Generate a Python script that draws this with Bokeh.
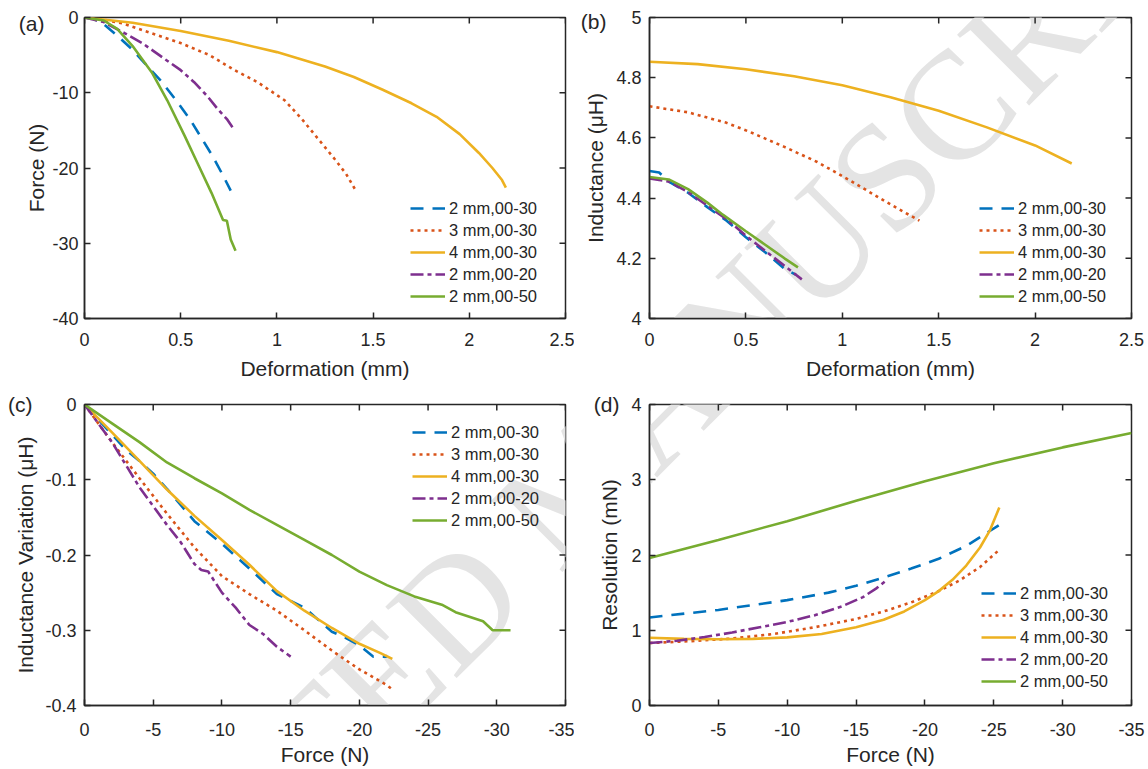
import math
from bokeh.plotting import figure
from bokeh.layouts import column, row
from bokeh.models import (Range1d, FixedTicker, CustomJSTickFormatter, LinearAxis,
                          Legend, LegendItem, Label)
from bokeh.embed import file_html
from bokeh.resources import INLINE

# ---------------- data ----------------
series_names = ["2 mm,00-30", "3 mm,00-30", "4 mm,00-30", "2 mm,00-20", "2 mm,00-50"]
series_colors = ["#0072BD", "#D95319", "#EDB120", "#7E2F8E", "#77AC30"]
series_dashes = ["13 9", "3 4", "solid", "13 4 4 4", "solid"]

# (a) Force (N) vs Deformation (mm)
a_x_2mm30 = [0, 0.05, 0.10, 0.17, 0.25, 0.31, 0.40, 0.485, 0.55, 0.61, 0.67, 0.72, 0.76]
a_y_2mm30 = [0, -0.2, -0.9, -2.4, -4.3, -6.0, -8.5, -11.3, -13.6, -16.1, -18.6, -21.0, -23.0]
a_x_3mm30 = [0, 0.1, 0.2, 0.35, 0.5, 0.65, 0.78, 0.9, 1.04, 1.13, 1.21, 1.30, 1.36, 1.41]
a_y_3mm30 = [0, -0.3, -0.8, -2.1, -3.4, -5.0, -7.0, -8.6, -11.0, -13.5, -16.0, -18.8, -20.8, -23.0]
a_x_4mm30 = [0, 0.25, 0.5, 0.75, 1.0, 1.25, 1.4, 1.55, 1.7, 1.83, 1.95, 2.05, 2.12, 2.17, 2.19]
a_y_4mm30 = [0, -0.7, -1.8, -3.1, -4.6, -6.5, -7.9, -9.6, -11.4, -13.2, -15.5, -18.0, -20.0, -21.6, -22.6]
a_x_2mm20 = [0, 0.1, 0.21, 0.3, 0.416, 0.5, 0.57, 0.64, 0.69, 0.74, 0.78]
a_y_2mm20 = [0, -0.6, -2.1, -3.4, -5.5, -7.0, -8.6, -10.5, -12.1, -13.5, -15.0]
a_x_2mm50 = [0, 0.1, 0.17, 0.25, 0.35, 0.43, 0.52, 0.59, 0.66, 0.72, 0.74, 0.76, 0.785]
a_y_2mm50 = [0, -0.4, -1.5, -3.8, -7.3, -11.0, -15.7, -19.5, -23.3, -26.9, -27.0, -29.5, -31.0]

# (b) Inductance (uH) vs Deformation (mm)
b_x_2mm30 = [0, 0.05, 0.1, 0.2, 0.3, 0.4, 0.5, 0.6, 0.7, 0.76]
b_y_2mm30 = [4.49, 4.485, 4.455, 4.418, 4.37, 4.325, 4.27, 4.22, 4.165, 4.145]
b_x_3mm30 = [0, 0.2, 0.4, 0.52, 0.7, 0.87, 1.05, 1.22, 1.40]
b_y_3mm30 = [4.705, 4.685, 4.65, 4.62, 4.57, 4.52, 4.455, 4.39, 4.325]
b_x_4mm30 = [0, 0.25, 0.5, 0.75, 1.0, 1.25, 1.5, 1.75, 2.0, 2.19]
b_y_4mm30 = [4.853, 4.845, 4.828, 4.805, 4.775, 4.735, 4.69, 4.635, 4.575, 4.515]
b_x_2mm20 = [0, 0.1, 0.2, 0.3, 0.4, 0.5, 0.6, 0.7, 0.79]
b_y_2mm20 = [4.465, 4.455, 4.42, 4.375, 4.33, 4.275, 4.225, 4.175, 4.13]
b_x_2mm50 = [0, 0.1, 0.2, 0.3, 0.38, 0.5, 0.6, 0.7, 0.77]
b_y_2mm50 = [4.47, 4.462, 4.43, 4.385, 4.345, 4.29, 4.245, 4.2, 4.17]

# (c) Inductance Variation (uH) vs Force (N)
c_x_2mm30 = [0, -1, -2, -3, -4, -5, -6, -8, -10, -12, -14, -16, -18, -19, -20, -21, -22]
c_y_2mm30 = [0, -0.02, -0.04, -0.06, -0.075, -0.092, -0.112, -0.155, -0.185, -0.218, -0.252, -0.27, -0.302, -0.31, -0.32, -0.335, -0.335]
c_x_3mm30 = [0, -2, -4, -6, -8, -10, -12, -14, -16, -18, -20, -22, -22.5]
c_y_3mm30 = [0, -0.05, -0.098, -0.145, -0.19, -0.228, -0.252, -0.274, -0.30, -0.327, -0.352, -0.373, -0.38]
c_x_4mm30 = [0, -2, -4, -6, -8, -10, -12, -14, -16, -18, -20, -21.5, -22.4]
c_y_4mm30 = [0, -0.037, -0.075, -0.113, -0.148, -0.18, -0.213, -0.248, -0.274, -0.297, -0.318, -0.33, -0.338]
c_x_2mm20 = [0, -1, -2, -3, -4, -5, -6, -7, -8, -8.5, -9, -10, -11, -12, -13, -14, -15]
c_y_2mm20 = [0, -0.025, -0.05, -0.08, -0.11, -0.135, -0.16, -0.183, -0.212, -0.22, -0.222, -0.25, -0.27, -0.293, -0.305, -0.322, -0.335]
c_x_2mm50 = [0, -2, -4, -6, -8, -10, -12, -14, -16, -18, -20, -22, -24, -26, -27, -29, -29.7, -31]
c_y_2mm50 = [0, -0.025, -0.05, -0.077, -0.098, -0.118, -0.14, -0.16, -0.18, -0.2, -0.222, -0.24, -0.255, -0.266, -0.276, -0.288, -0.30, -0.30]

# (d) Resolution (mN) vs Force (N)
d_x_2mm30 = [0, -5, -10, -13, -15, -17, -19, -21, -23, -25.4]
d_y_2mm30 = [1.17, 1.27, 1.40, 1.50, 1.59, 1.70, 1.82, 1.95, 2.12, 2.40]
d_x_3mm30 = [0, -3, -6, -9, -12, -15, -17, -19, -21, -22.5, -24, -25.4]
d_y_3mm30 = [0.83, 0.855, 0.89, 0.95, 1.04, 1.15, 1.25, 1.37, 1.52, 1.66, 1.84, 2.07]
d_x_4mm30 = [0, -2.5, -5, -7.5, -10, -12.5, -15, -17, -18.5, -20, -21, -22, -23, -24, -24.7, -25.4]
d_y_4mm30 = [0.9, 0.885, 0.88, 0.885, 0.905, 0.95, 1.04, 1.14, 1.25, 1.40, 1.52, 1.67, 1.86, 2.10, 2.32, 2.63]
d_x_2mm20 = [0, -2, -4, -6, -8, -10, -12, -14, -15.5, -16.5, -17.3]
d_y_2mm20 = [0.83, 0.86, 0.91, 0.97, 1.04, 1.11, 1.20, 1.32, 1.44, 1.56, 1.68]
d_x_2mm50 = [0, -5, -10, -15, -20, -25, -30, -35]
d_y_2mm50 = [1.96, 2.2, 2.45, 2.72, 2.98, 3.22, 3.43, 3.62]

# axes ticks
a_xticks = [0, 0.5, 1, 1.5, 2, 2.5]
a_yticks = [-40, -30, -20, -10, 0]
b_yticks = [4, 4.2, 4.4, 4.6, 4.8, 5]
c_xticks = [0, -5, -10, -15, -20, -25, -30, -35]
c_yticks = [-0.4, -0.3, -0.2, -0.1, 0]
d_yticks = [0, 1, 2, 3, 4]

panel_tags = ["(a)", "(b)", "(c)", "(d)"]
x_labels = ["Deformation (mm)", "Deformation (mm)", "Force (N)", "Force (N)"]
y_labels = ["Force (N)", "Inductance (\u03bcH)", "Inductance Variation (\u03bcH)", "Resolution (mN)"]
watermark = "ACCEPTED MANUSCRIPT"

SANS = "Liberation Sans"
SERIF = "Liberation Serif"
INK = "#262626"
FMT = "return tick.toString();"


def style_axis(ax, ticks):
    ax.ticker = FixedTicker(ticks=ticks)
    ax.formatter = CustomJSTickFormatter(code=FMT)
    ax.axis_line_color = INK
    ax.axis_line_width = 1.5
    ax.major_tick_line_color = INK
    ax.major_tick_line_width = 1.5
    ax.major_tick_in = 6
    ax.major_tick_out = 0
    ax.minor_tick_line_color = None
    ax.major_label_text_font = SANS
    ax.major_label_text_color = INK
    ax.major_label_text_font_size = "18px"


def make_panel(xs, ys, xr, yr, xticks, yticks, xlabel, ylabel, width, height,
               borders, xstand, ystand, legend_xy, tag, tag_dy, tag_stand, origin):
    left, right, top, bottom = borders
    p = figure(width=width, height=height, x_range=Range1d(*xr), y_range=Range1d(*yr),
               output_backend="svg", toolbar_location=None, tools="",
               min_border_left=left, min_border_right=right,
               min_border_top=top, min_border_bottom=bottom)
    p.xgrid.visible = False
    p.ygrid.visible = False
    p.outline_line_color = INK
    p.outline_line_width = 1.5
    p.background_fill_color = "white"
    p.border_fill_color = "white"

    xa = p.xaxis[0]
    ya = p.yaxis[0]
    style_axis(xa, xticks)
    style_axis(ya, yticks)
    xa.major_label_standoff, xa.axis_label_standoff = xstand
    ya.major_label_standoff, ya.axis_label_standoff = ystand
    for ax, lab in ((xa, xlabel), (ya, ylabel)):
        ax.axis_label = lab
        ax.axis_label_text_font = SANS
        ax.axis_label_text_font_size = "21px"
        ax.axis_label_text_font_style = "normal"
        ax.axis_label_text_color = INK

    # panel tag as a single-tick outer axis (text outside the frame)
    frame_h = height - top - bottom
    tag_y = yr[1] - tag_dy * (yr[1] - yr[0]) / frame_h
    tag_ax = LinearAxis(ticker=FixedTicker(ticks=[tag_y]),
                        formatter=CustomJSTickFormatter(args=dict(tag=tag), code="return tag;"),
                        axis_line_color=None, major_tick_line_color=None,
                        minor_tick_line_color=None, major_tick_in=0, major_tick_out=0,
                        major_label_standoff=tag_stand, major_label_text_font=SANS,
                        major_label_text_font_size="21px", major_label_text_color=INK)
    p.add_layout(tag_ax, "left")

    # watermark (drawn under the data)
    cx, cy = 578, 482
    ox, oy = origin
    p.add_layout(Label(x=cx - ox, y=cy - oy, x_units="canvas", y_units="canvas",
                       text=watermark, angle=45, angle_units="deg",
                       text_align="center", text_baseline="middle",
                       text_font=SERIF, text_font_size="154px",
                       text_color="#e4e4e4", level="underlay"))

    # inward ticks on the top and right edges of the box
    p.scatter(xticks, [yr[1]] * len(xticks), marker="dash", size=12, angle=math.pi / 2,
              line_color=INK, line_width=1.5)
    p.scatter([xr[1]] * len(yticks), yticks, marker="dash", size=12,
              line_color=INK, line_width=1.5)

    renderers = []
    for x, y, c, d in zip(xs, ys, series_colors, series_dashes):
        r = p.line(x, y, line_color=c, line_width=2.6, line_dash=d)
        renderers.append(r)

    items = [LegendItem(label=n, renderers=[r]) for n, r in zip(series_names, renderers)]
    leg = Legend(items=items, location=legend_xy, padding=0, margin=0, spacing=2,
                 glyph_width=35, glyph_height=20, label_height=20, label_standoff=4,
                 label_text_font=SANS, label_text_font_size="16.5px",
                 label_text_color=INK, border_line_color=None,
                 background_fill_alpha=0)
    p.add_layout(leg)
    return p


pa = make_panel([a_x_2mm30, a_x_3mm30, a_x_4mm30, a_x_2mm20, a_x_2mm50],
                [a_y_2mm30, a_y_3mm30, a_y_4mm30, a_y_2mm20, a_y_2mm50],
                (0, 2.5), (-40, 0), a_xticks, a_yticks, x_labels[0], y_labels[0],
                574, 384, (84, 9, 17, 66), (14, 8), (6, 1), (326, 12),
                panel_tags[0], 6, -22, (0, 0))
pb = make_panel([b_x_2mm30, b_x_3mm30, b_x_4mm30, b_x_2mm20, b_x_2mm50],
                [b_y_2mm30, b_y_3mm30, b_y_4mm30, b_y_2mm20, b_y_2mm50],
                (0, 2.5), (4, 5), a_xticks, b_yticks, x_labels[1], y_labels[1],
                574, 384, (75, 17, 17, 66), (14, 8), (8, 6), (330, 12),
                panel_tags[1], 4, -25, (574, 0))
pc = make_panel([c_x_2mm30, c_x_3mm30, c_x_4mm30, c_x_2mm20, c_x_2mm50],
                [c_y_2mm30, c_y_3mm30, c_y_4mm30, c_y_2mm20, c_y_2mm50],
                (0, -35), (-0.4, 0), c_xticks, c_yticks, x_labels[2], y_labels[2],
                574, 384, (84, 9, 20, 62), (17, 4), (8, 5), (328, 175),
                panel_tags[2], 0, -21, (0, 384))
pd = make_panel([d_x_2mm30, d_x_3mm30, d_x_4mm30, d_x_2mm20, d_x_2mm50],
                [d_y_2mm30, d_y_3mm30, d_y_4mm30, d_y_2mm20, d_y_2mm50],
                (0, -35), (0, 4), c_xticks, d_yticks, x_labels[3], y_labels[3],
                574, 384, (75, 17, 20, 62), (17, 4), (8, 7), (332, 14),
                panel_tags[3], 0, -24, (574, 384))

layout = column(row(pa, pb), row(pc, pd))
open("out.html", "w").write(file_html(layout, INLINE))
